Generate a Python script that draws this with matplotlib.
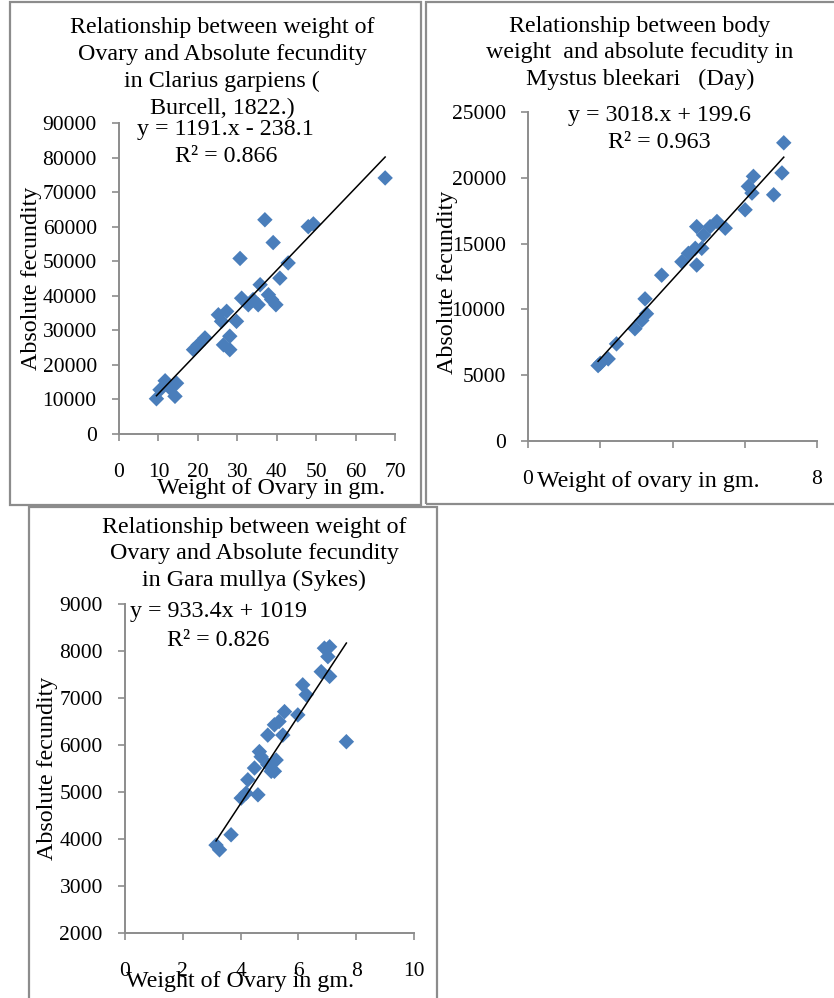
import matplotlib
matplotlib.use("Agg")
import matplotlib.pyplot as plt
from matplotlib.patches import Rectangle

# Clarius garpiens: ovary weight (g) vs absolute fecundity
clar_w = [9.5, 10.4, 11.7, 14.6, 14.2, 12.9, 18.9, 20.1, 21.8, 25.2, 26.0, 27.3,
          26.5, 28.1, 28.1, 29.8, 30.7, 31.1, 32.8, 35.3, 35.8, 37.0, 37.9, 38.7,
          39.8, 39.1, 40.8, 42.9, 48.0, 49.3, 67.5, 34.0]
clar_f = [10200, 12800, 15400, 14700, 10900, 13300, 24400, 25800, 27800, 34500,
          32600, 35500, 25800, 24400, 28300, 32600, 50800, 39300, 37400, 37400,
          43200, 62000, 40300, 38900, 37400, 55400, 45100, 49500, 60000, 60800,
          74100, 38900]
clar_fit = (1191.0, -238.1)

# Mystus bleekari: ovary weight vs absolute fecundity
myst_w = [1.94, 2.0, 2.22, 2.45, 2.96, 3.15, 3.28, 3.24, 3.70, 4.26, 4.44, 4.67,
          4.63, 4.81, 4.67, 4.86, 5.04, 5.23, 5.46, 6.01, 6.10, 6.24, 6.20, 6.80,
          7.03, 7.08]
myst_f = [5730, 5900, 6240, 7380, 8530, 9160, 9670, 10800, 12600, 13620, 14260,
          13370, 14640, 14640, 16290, 15660, 16290, 16680, 16170, 17570, 19350,
          20110, 18840, 18710, 20370, 22660]
myst_fit = (3018.0, 199.6)

# Gara mullya
gara_w = [3.15, 3.27, 3.67, 4.02, 4.19, 4.25, 4.48, 4.60, 4.71, 4.65, 4.94, 5.06,
          5.17, 5.23, 4.94, 5.17, 5.33, 5.46, 5.52, 5.98, 6.15, 6.27, 6.79, 6.90,
          7.08, 7.02, 7.08, 7.66]
gara_f = [3870, 3770, 4090, 4870, 4975, 5260, 5510, 4940, 5750, 5860, 5580, 5440,
          5440, 5680, 6210, 6430, 6500, 6210, 6710, 6640, 7280, 7070, 7560, 8060,
          7460, 7880, 8090, 6070]
gara_fit = (933.4, 1019.0)

W, H = 834, 998
BLUE = "#4A7EBB"
GREY = "#8C8C8C"
FS = 17.3     # titles / labels
TFS = 15.5    # tick labels
LS = 1.35     # title line spacing

plt.rcParams["font.family"] = ["Liberation Serif", "DejaVu Serif"]

fig = plt.figure(figsize=(W / 100, H / 100), dpi=100)


def fx(x):
    return x / W


def fy(y):
    return 1 - y / H


def box(x0, y0, x1, y1):
    fig.patches.append(Rectangle((fx(x0), fy(y1)), fx(x1) - fx(x0), fy(y0) - fy(y1),
                                 transform=fig.transFigure, fill=False,
                                 edgecolor=GREY, lw=1.6))


def panel(left, right, top, bottom, xs, ys, fit, xlim, ylim, xticks, yticks):
    ax = fig.add_axes([fx(left), fy(bottom), fx(right) - fx(left), fy(top) - fy(bottom)])
    ax.scatter(xs, ys, marker="D", s=62, color=BLUE, edgecolors="none", zorder=3)
    lo, hi = min(xs), max(xs)
    ax.plot([lo, hi], [fit[0] * lo + fit[1], fit[0] * hi + fit[1]], color="black",
            lw=1.1, zorder=4)
    ax.set_xlim(*xlim)
    ax.set_ylim(*ylim)
    ax.set_xticks(xticks)
    ax.set_yticks(yticks)
    for s in ("top", "right"):
        ax.spines[s].set_visible(False)
    for s in ("left", "bottom"):
        ax.spines[s].set_color(GREY)
        ax.spines[s].set_linewidth(1.4)
    ax.tick_params(axis="both", colors=GREY, labelcolor="black", labelsize=TFS,
                   length=5, width=1.2)
    ax.tick_params(axis="y", pad=11)
    ax.tick_params(axis="x", pad=16)
    ax.patch.set_alpha(0)
    return ax


# boxes round each chart
box(10, 2, 421, 505)
box(426, 2, 836, 504)
box(29, 507, 437, 1000)

# --- Clarius garpiens
ax1 = panel(119, 395, 123, 434, clar_w, clar_f, clar_fit, (0, 70), (0, 90000),
            range(0, 71, 10), range(0, 90001, 10000))
fig.text(fx(222), fy(68), "Relationship between weight of\nOvary and Absolute fecundity\n"
         "in Clarius garpiens (\nBurcell, 1822.)", ha="center", va="center",
         fontsize=FS, linespacing=LS)
fig.text(fx(225), fy(130), "y = 1191.x - 238.1", ha="center", va="center", fontsize=FS)
fig.text(fx(226), fy(157), "R² = 0.866", ha="center", va="center", fontsize=FS)
fig.text(fx(32), fy(278), "Absolute fecundity", rotation=90, ha="center", va="center",
         fontsize=FS)
fig.text(fx(271), fy(488), "Weight of Ovary in gm.", ha="center", va="center",
         fontsize=FS)

# --- Mystus bleekari
ax2 = panel(528, 817, 112, 441, myst_w, myst_f, myst_fit, (0, 8), (0, 25000),
            range(0, 9, 2), range(0, 25001, 5000))
fig.text(fx(640), fy(53), "Relationship between body\nweight  and absolute fecudity in\n"
         "Mystus bleekari   (Day)", ha="center", va="center", fontsize=FS,
         linespacing=LS)
fig.text(fx(659), fy(116), "y = 3018.x + 199.6", ha="center", va="center", fontsize=FS)
fig.text(fx(659), fy(143), "R² = 0.963", ha="center", va="center", fontsize=FS)
fig.text(fx(448), fy(282), "Absolute fecundity", rotation=90, ha="center", va="center",
         fontsize=FS)
# the axis title sits over the 2/4/6 tick labels, as in the original
fig.text(fx(648), fy(481), "Weight of ovary in gm.", ha="center", va="center",
         fontsize=FS, zorder=10,
         bbox=dict(facecolor="white", edgecolor="none", pad=2.5))

# --- Gara mullya
ax3 = panel(125, 414, 604, 933, gara_w, gara_f, gara_fit, (0, 10), (2000, 9000),
            range(0, 11, 2), range(2000, 9001, 1000))
fig.text(fx(254), fy(554), "Relationship between weight of\nOvary and Absolute fecundity\n"
         "in Gara mullya (Sykes)", ha="center", va="center", fontsize=FS,
         linespacing=LS)
fig.text(fx(130), fy(612), "y = 933.4x + 1019", ha="left", va="center", fontsize=FS)
fig.text(fx(218), fy(640), "R² = 0.826", ha="center", va="center", fontsize=FS)
fig.text(fx(48), fy(768), "Absolute fecundity", rotation=90, ha="center", va="center",
         fontsize=FS)
fig.text(fx(240), fy(982), "Weight of Ovary in gm.", ha="center", va="center",
         fontsize=FS)

fig.savefig("out.png", dpi=100)
